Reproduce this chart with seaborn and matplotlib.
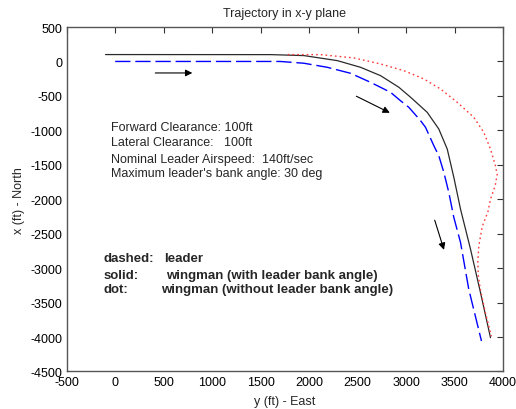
import numpy as np
import pandas as pd
import matplotlib
matplotlib.use("Agg")
import matplotlib.pyplot as plt
import seaborn as sb

# leader path (dashed), y = East, x = North
lead_east = [0, 1700, 1947, 2188, 2428, 2634, 2840, 2943, 3029, 3150, 3201, 3287, 3338, 3390, 3441, 3493, 3562, 3647, 3778]
lead_north = [0, 0, -26, -85, -172, -303, -448, -570, -666, -860, -956, -1224, -1369, -1610, -1901, -2265, -2628, -3307, -4058]

# wingman with leader bank angle (solid)
wing_east = [-100, 1607, 1947, 2291, 2531, 2737, 2926, 3047, 3218, 3338, 3425, 3493, 3562, 3665, 3768, 3871]
wing_north = [100, 99, 85, 12, -85, -206, -375, -520, -738, -981, -1272, -1683, -2144, -2725, -3355, -4009]

# wingman without leader bank angle (dotted)
nob_east = [1780, 2119, 2462, 2737, 2978, 3184, 3356, 3528, 3699, 3802, 3871, 3922, 3940, 3920, 3871,
            3845, 3785, 3751, 3740, 3745, 3765, 3819, 3871, 3880]
nob_north = [100, 99, 51, -36, -134, -254, -400, -593, -811, -1029, -1272, -1514, -1640, -1800, -1999,
             -2180, -2400, -2677, -2900, -3100, -3300, -3650, -3936, -3990]

# direction arrows (start east, start north, tip east, tip north)
arr_start_e = [385, 2462, 3287]
arr_start_n = [-167, -487, -2265]
arr_tip_e = [824, 2858, 3400]
arr_tip_n = [-167, -763, -2773]

info_lines = ["Forward Clearance: 100ft",
              "Lateral Clearance:   100ft",
              "Nominal Leader Airspeed:  140ft/sec",
              "Maximum leader's bank angle: 30 deg"]
key_names = ["dashed:", "solid:", "dot:"]
key_descr = ["leader", "wingman (with leader bank angle)", "wingman (without leader bank angle)"]

sb.set_style("white")
plt.rcParams['font.family'] = ['Liberation Sans', 'DejaVu Sans']
plt.rcParams['axes.unicode_minus'] = False

fig = plt.figure(figsize=(5.16, 4.10), dpi=100)
ax = fig.add_axes([0.1293, 0.0915, 0.8455, 0.8402])

lead = pd.DataFrame({'east': lead_east, 'north': lead_north})
wing = pd.DataFrame({'east': wing_east, 'north': wing_north})
nob = pd.DataFrame({'east': nob_east, 'north': nob_north})

sb.lineplot(data=lead, x='east', y='north', sort=False, estimator=None, ax=ax,
            color='#0000ff', lw=1.0, linestyle=(0, (11, 3.5)))
sb.lineplot(data=wing, x='east', y='north', sort=False, estimator=None, ax=ax,
            color='#2a2a2a', lw=0.9)
sb.lineplot(data=nob, x='east', y='north', sort=False, estimator=None, ax=ax,
            color='#ff3838', lw=1.0, linestyle=(0, (1.2, 2.2)))

for i in range(len(arr_start_e)):
    ax.annotate("", xy=(arr_tip_e[i], arr_tip_n[i]), xytext=(arr_start_e[i], arr_start_n[i]),
                arrowprops=dict(arrowstyle="-|>", color='k', lw=0.8, mutation_scale=10))

info_y = [-953, -1175, -1417, -1620]
for t, yy in zip(info_lines, info_y):
    ax.text(-44, yy, t, fontsize=9, va='center', ha='left')

key_y = [-2850, -3100, -3310]
descr_x = [500, 520, 472]
for n, d, yy, dx in zip(key_names, key_descr, key_y, descr_x):
    ax.text(-120, yy, n, fontsize=9.5, fontweight='bold', va='center', ha='left')
    ax.text(dx, yy, d, fontsize=9.5, fontweight='bold', va='center', ha='left')

ax.set_xlim(-500, 4000)
ax.set_ylim(-4500, 500)
ax.set_xticks(np.arange(-500, 4001, 500))
ax.set_yticks(np.arange(-4500, 501, 500))
ax.tick_params(direction='in', length=4, width=0.8, top=True, right=True,
               labelsize=9, colors='#333333', labelcolor='black', pad=3)
for s in ax.spines.values():
    s.set_color('#555555')
    s.set_linewidth(1.0)

ax.set_title("Trajectory in x-y plane", fontsize=9, pad=8)
ax.set_xlabel("y (ft) - East", fontsize=9, labelpad=5)
ax.set_ylabel("x (ft) - North", fontsize=9, labelpad=4)

plt.savefig("out.png", dpi=100)
